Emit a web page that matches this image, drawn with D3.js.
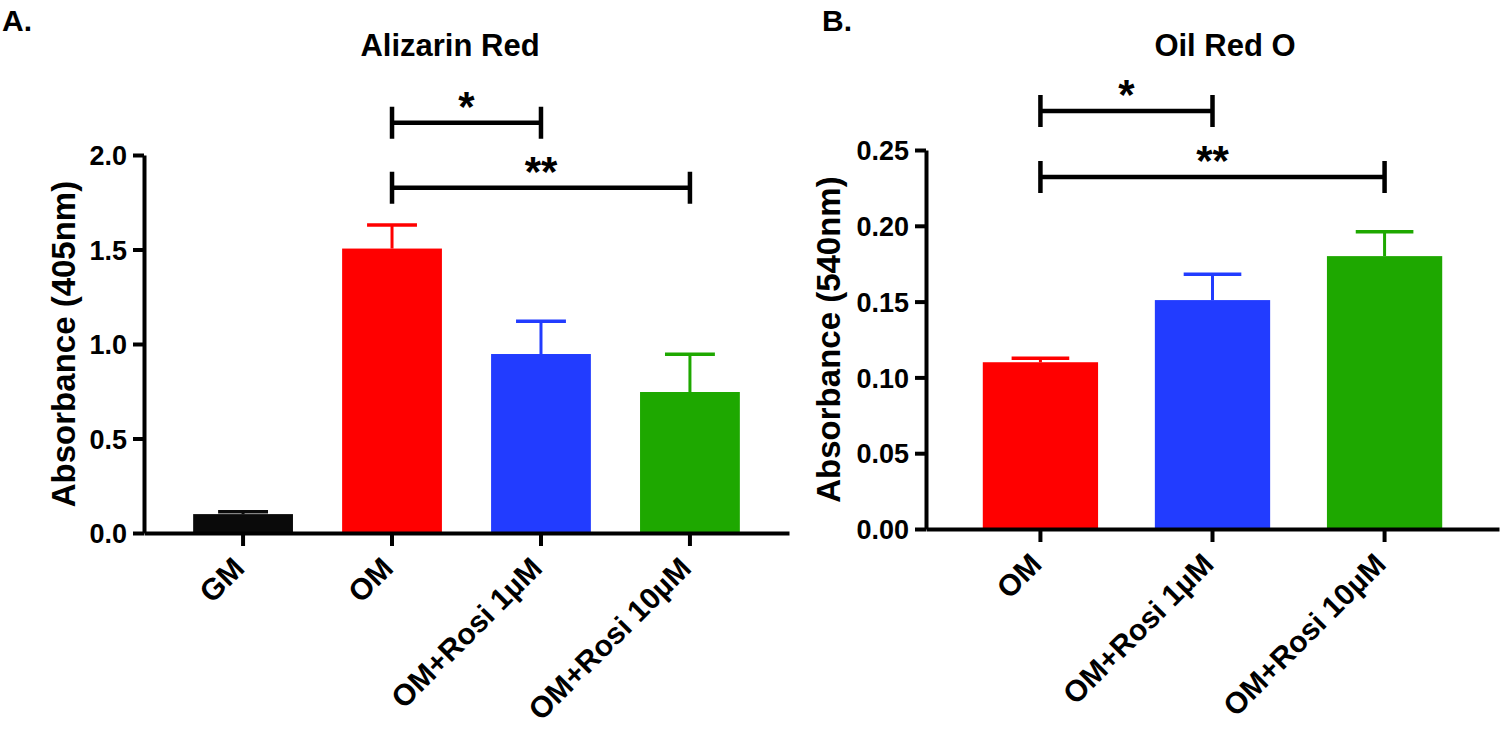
<!DOCTYPE html>
<html><head><meta charset="utf-8">
<script src="https://cdn.jsdelivr.net/npm/d3@7"></script>
<style>
body{margin:0;background:#fff}
text{font-family:"Liberation Sans",Arial,Helvetica,sans-serif;font-weight:bold;fill:#000}
</style>
</head><body><svg id="c" width="1500" height="733"></svg>
<script>
// ---- Panel A data ----
const catsA = ["GM", "OM", "OM+Rosi 1µM", "OM+Rosi 10µM"];
const meanA = [0.10, 1.505, 0.947, 0.746];
const errA = [0.013, 0.125, 0.173, 0.20];
const colorsA = ["#0a0a0a", "#ff0000", "#223cff", "#1ea800"];
const ticksA = [0, 0.5, 1.0, 1.5, 2.0];
const sigA = [
  {from: "OM", to: "OM+Rosi 1µM", y: 2.17, label: "*"},
  {from: "OM", to: "OM+Rosi 10µM", y: 1.827, label: "**"}
];
// ---- Panel B data ----
const catsB = ["OM", "OM+Rosi 1µM", "OM+Rosi 10µM"];
const meanB = [0.110, 0.151, 0.180];
const errB = [0.0026, 0.017, 0.016];
const colorsB = ["#ff0000", "#223cff", "#1ea800"];
const ticksB = [0, 0.05, 0.10, 0.15, 0.20, 0.25];
const sigB = [
  {from: "OM", to: "OM+Rosi 1µM", y: 0.2757, label: "*"},
  {from: "OM", to: "OM+Rosi 10µM", y: 0.2322, label: "**"}
];

const svg = d3.select("#c");
svg.append("rect").attr("width",1500).attr("height",733).attr("fill","#fff");

function panel(o){
  const g = svg.append("g");
  const x = d3.scaleBand().domain(o.cats).range([o.x0, o.x1]).paddingInner(0.33).paddingOuter(0.33);
  const y = d3.scaleLinear().domain([0, o.ymax]).range([o.yb, o.yt]);
  const bw = x.bandwidth();

  // bars
  g.selectAll("rect.bar").data(o.cats).join("rect")
    .attr("x", d => x(d)).attr("width", bw)
    .attr("y", (d,i) => y(o.mean[i])).attr("height", (d,i) => y(0) - y(o.mean[i]))
    .attr("fill", (d,i) => o.colors[i]);
  // error bars
  o.cats.forEach((d,i) => {
    const cx = x(d) + bw/2;
    g.append("line").attr("x1",cx).attr("x2",cx)
      .attr("y1",y(o.mean[i])).attr("y2",y(o.mean[i]+o.err[i]))
      .attr("stroke",o.colors[i]).attr("stroke-width",3);
    g.append("line").attr("x1",cx-bw/4).attr("x2",cx+bw/4)
      .attr("y1",y(o.mean[i]+o.err[i])).attr("y2",y(o.mean[i]+o.err[i]))
      .attr("stroke",o.colors[i]).attr("stroke-width",3.5);
  });

  // y axis
  const ya = g.append("g").attr("transform",`translate(${o.x0},0)`)
    .call(d3.axisLeft(y).tickValues(o.ticks).tickFormat(d3.format(o.fmt)).tickSize(11).tickPadding(6).tickSizeOuter(0));
  ya.select(".domain").attr("stroke","#000").attr("stroke-width",4);
  ya.selectAll(".tick line").attr("stroke","#000").attr("stroke-width",4);
  ya.selectAll(".tick text").style("font-size","27px").attr("dy","0.36em");

  // x axis
  const xa = g.append("g").attr("transform",`translate(0,${o.yb})`)
    .call(d3.axisBottom(x).tickSize(13).tickSizeOuter(0).tickFormat(""));
  xa.select(".domain").attr("stroke","#000").attr("stroke-width",4);
  xa.selectAll(".tick line").attr("stroke","#000").attr("stroke-width",4);

  // category labels
  g.selectAll("text.cat").data(o.cats).join("text")
    .attr("transform", d => `translate(${x(d)+bw/2+3},${o.yb+37}) rotate(-45)`)
    .attr("text-anchor","end").style("font-size","30px").text(d => d);

  // y title
  g.append("text").attr("transform",`translate(${o.ytx},${(o.yt+o.yb)/2}) rotate(-90)`)
    .attr("text-anchor","middle").style("font-size","33px").text(o.ytitle);

  // chart title
  g.append("text").attr("x",o.tx).attr("y",56).attr("text-anchor","middle")
    .style("font-size","31px").text(o.title);
  // panel letter
  g.append("text").attr("x",o.lx).attr("y",31).style("font-size","30px").text(o.letter);

  // significance brackets
  o.sig.forEach(s => {
    const xa1 = x(s.from) + bw/2, xa2 = x(s.to) + bw/2, yy = y(s.y);
    g.append("path").attr("d",`M${xa1},${yy-16}V${yy+16}M${xa1},${yy}H${xa2}M${xa2},${yy-16}V${yy+16}`)
      .attr("fill","none").attr("stroke","#000").attr("stroke-width",4.5);
    g.append("text").attr("x",(xa1+xa2)/2).attr("y",yy-2).attr("text-anchor","middle")
      .style("font-size","42px").text(s.label);
  });
}

panel({cats:catsA, mean:meanA, err:errA, colors:colorsA, ticks:ticksA, sig:sigA, ymax:2.0, fmt:".1f",
  x0:144, x1:789, yb:533, yt:155, ytx:75, ytitle:"Absorbance (405nm)", title:"Alizarin Red", tx:450, lx:2, letter:"A."});
panel({cats:catsB, mean:meanB, err:errB, colors:colorsB, ticks:ticksB, sig:sigB, ymax:0.25, fmt:".2f",
  x0:926, x1:1499, yb:529, yt:150, ytx:840, ytitle:"Absorbance (540nm)", title:"Oil Red O", tx:1225, lx:822, letter:"B."});
</script>
</body></html>
